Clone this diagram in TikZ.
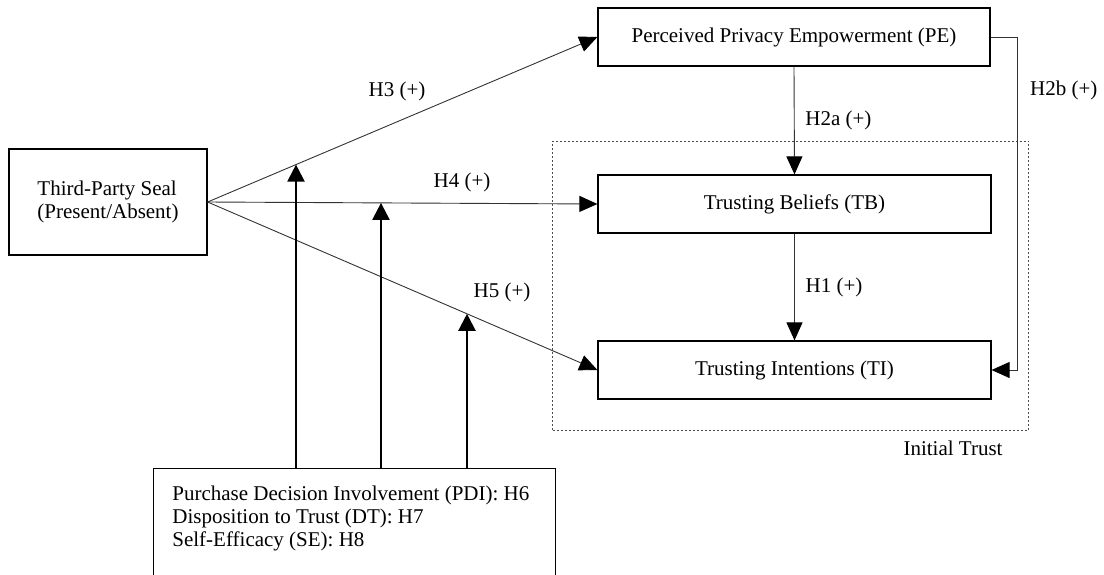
\documentclass[tikz,border=0pt]{standalone}
\usepackage{fontspec}
\setmainfont{Liberation Serif}
\usetikzlibrary{arrows.meta}

\begin{document}
\begin{tikzpicture}[x=0.5pt, y=-0.5pt, font=\fontsize{10.5}{11.5}\selectfont,
                    box/.style={draw, line width=0.6pt, inner sep=0pt},
                    conn/.style={draw=black!80, line width=0.45pt, -{Triangle[length=9pt,width=8pt,color=black]}},
                    mod arrow/.style={line width=1.1pt, -{Triangle[length=8.5pt,width=8.5pt]}},
                    hyp/.style={inner sep=0pt}]

  \useasboundingbox (0,0) rectangle (1104,574);
  \clip (0,0) rectangle (1104,574);

  \node[box, minimum width=99pt, minimum height=53pt, align=left] (seal) at (108, 202) {Third-Party Seal\\(Present/Absent)};
  \node[box, minimum width=196pt, minimum height=29pt] (pe) at (794, 37) {Perceived Privacy Empowerment (PE)};
  \node[box, minimum width=196.5pt, minimum height=29pt] (tb) at (794.5, 204) {Trusting Beliefs (TB)};
  \node[box, minimum width=196.5pt, minimum height=29pt] (ti) at (794.5, 370) {Trusting Intentions (TI)};
  \node[draw=black!70, line width=0.5pt, dash pattern=on 1pt off 1pt, minimum width=238pt, minimum height=144.5pt] (trust) at (790.5, 285.5) {};
  \node[hyp] (trustlabel) at (953, 448) {Initial Trust};
  \node[box, minimum width=201pt, minimum height=100pt, anchor=north west] (modbox) at (153, 468) {};
  \node[hyp, anchor=north west, align=left] (modtext) at (172, 486) {Purchase Decision Involvement (PDI): H6\\Disposition to Trust (DT): H7\\Self-Efficacy (SE): H8};

  \node[hyp] (h3) at (397, 91) {H3 (+)};
  \node[hyp] (h4) at (462, 182) {H4 (+)};
  \node[hyp] (h5) at (502, 292) {H5 (+)};

  \path[every edge/.style={conn}]
  (seal.east) edge (pe.west)
  (seal.east) edge (tb.west)
  (seal.east) edge (ti.west)
  (pe.south) edge node [right, xshift=2pt] {H2a (+)} (tb.north)
  (tb.south) edge node [right, xshift=2pt] {H1 (+)} (ti.north);

  \coordinate (h2bturn) at (1017, 37);
  \draw[conn] (pe.east) -- (h2bturn) |- node [pos=0.08, right, xshift=3pt] {H2b (+)} (ti.east);

  \coordinate (m3) at (intersection of seal.east--pe.west and 296,0--296,100);
  \coordinate (m4) at (intersection of seal.east--tb.west and 381,0--381,100);
  \coordinate (m5) at (intersection of seal.east--ti.west and 467,0--467,100);
  \draw[mod arrow] (modbox.north -| m3) -- (m3);
  \draw[mod arrow] (modbox.north -| m4) -- (m4);
  \draw[mod arrow] (modbox.north -| m5) -- (m5);

\end{tikzpicture}
\end{document}
